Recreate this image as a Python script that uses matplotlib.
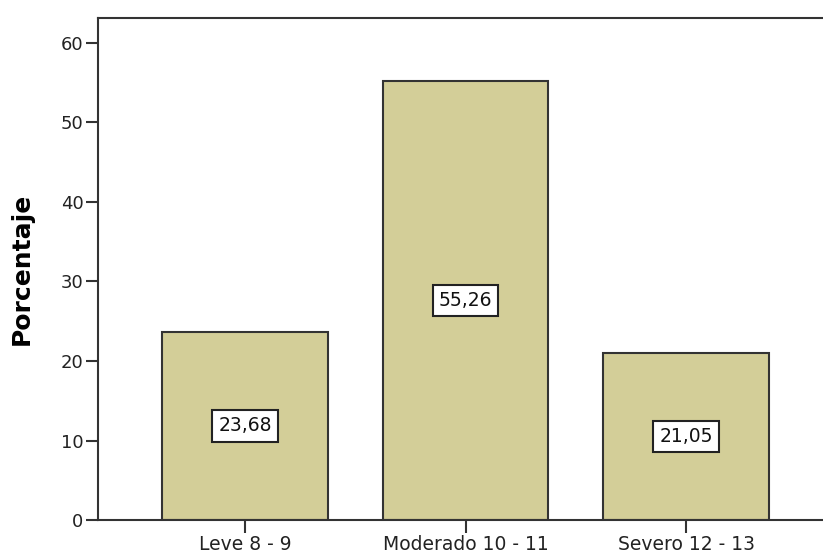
import numpy as np
import matplotlib
matplotlib.use("Agg")
from matplotlib import pyplot as plt

plt.rcParams["font.family"] = ["DejaVu Sans"]

categorias = ["Leve 8 - 9", "Moderado 10 - 11", "Severo 12 - 13"]
porcentaje = [23.68, 55.26, 21.05]
etiquetas = ["23,68", "55,26", "21,05"]
yticks = [0, 10, 20, 30, 40, 50, 60]

fig = plt.figure(figsize=(8.23, 5.58), dpi=100)
ax = fig.add_axes([0.119, 0.068, 0.881, 0.899])

x = np.arange(len(categorias))
bars = ax.bar(x, porcentaje, width=0.75, color="#d3ce98", edgecolor="#333333", linewidth=1.5, zorder=2)

for xi, v, t in zip(x, porcentaje, etiquetas):
    ax.text(xi, v / 2, t, ha="center", va="center", fontsize=13.5, color="#111111",
            bbox=dict(boxstyle="square,pad=0.33", facecolor="white", edgecolor="#222222", linewidth=1.5),
            zorder=3)

ax.set_xlim(-0.666, 2.62)
ax.set_ylim(0, 63.07)
ax.set_xticks(x)
ax.set_xticklabels(categorias, fontsize=13.5, color="#222222")
ax.set_yticks(yticks)
ax.set_yticklabels([str(t) for t in yticks], fontsize=13, color="#222222")
ax.tick_params(axis="both", direction="out", length=9, width=1.5, color="#333333", pad=1.5)

ax.spines["right"].set_visible(False)
for s in ["left", "top", "bottom"]:
    ax.spines[s].set_color("#333333")
    ax.spines[s].set_linewidth(1.5)

ax.set_ylabel("Porcentaje", fontsize=18, fontweight="bold", labelpad=19)

fig.savefig("out.png", dpi=100)
